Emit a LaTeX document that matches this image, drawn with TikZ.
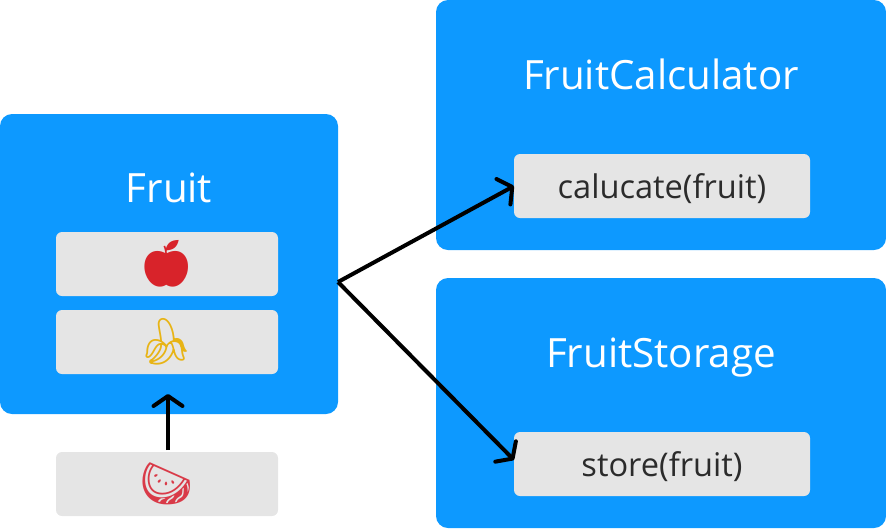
\documentclass[tikz,border=0pt]{standalone}
\usepackage{fontspec}
\setmainfont{Open Sans}
\newfontfamily\emojifont{Noto Emoji}
\usetikzlibrary{arrows.meta}
\definecolor{boxblue}{HTML}{0D99FF}
\definecolor{itemgrey}{HTML}{E5E5E5}
\definecolor{itemtext}{HTML}{2B2B2B}
\definecolor{applered}{HTML}{D8232A}
\definecolor{bananayellow}{HTML}{E8B415}
\definecolor{melonred}{HTML}{D93A48}
\newcommand{\fruitglyph}[2]{\textcolor{#1}{\emojifont\fontsize{46}{46}\selectfont #2}}

\begin{document}
\begin{tikzpicture}[x=1pt, y=-1pt, >={Straight Barb[round,length=10pt,width=29pt,line width=4pt]}, node distance=78pt, line width=4pt]
    \tikzset{
       classBox/.style={
                    rectangle,
                    rounded corners=12pt,
                    fill=boxblue,
                    inner sep=0pt
                   },
       itemBox/.style={
                    rectangle,
                    rounded corners=6pt,
                    fill=itemgrey,
                    text=itemtext,
                    inner sep=0pt,
                    minimum height=64pt,
                    font=\fontsize{32.6}{33}\selectfont
                   },
       title/.style={
                    text=white,
                    inner sep=0pt,
                    text height=29pt,
                    text depth=9pt,
                    font=\fontsize{40.3}{41}\selectfont
                   },
             };
    \useasboundingbox (0,0) rectangle (886,528);
    %--------------------
    \node[classBox, minimum width=338pt, minimum height=300pt] (fruit) at (169,264) {};
    \node[classBox, minimum width=450pt, minimum height=250pt] (calculator) at (661,125) {};
    \node[classBox, minimum width=450pt, minimum height=250pt] (storage) at (661,403) {};

    \node[title] (fruitTitle) at (169,192) {Fruit};
    \node[title] (calculatorTitle) at (661,79) {FruitCalculator};
    \node[title] (storageTitle) at (661,357) {FruitStorage};

    \node[itemBox, minimum width=222pt] (apple) at (167,264) {\fruitglyph{applered}{^^^^^^01f34e}};
    \node[itemBox, minimum width=222pt] (banana) [below of=apple] {\fruitglyph{bananayellow}{^^^^^^01f34c}};
    \node[itemBox, minimum width=222pt] (melon) at (167,484) {\fruitglyph{melonred}{^^^^^^01f349}};

    \node[itemBox, minimum width=296pt, text height=28pt, text depth=4pt] (calucate) at (662,186) {calucate(fruit)};
    \node[itemBox, minimum width=296pt, text height=28pt, text depth=4pt] (store) at (662,464) {store(fruit)};

    \coordinate (fork) at (338,282);
    \coordinate (slot) at (168,394);
    %--------------------
    \path[->] (melon.north -| slot) edge (slot)
              (fork) edge ([xshift=2pt]calucate.west)
              (fork) edge ([xshift=2pt,yshift=4pt]store.west)
    ;
\end{tikzpicture}
\end{document}
